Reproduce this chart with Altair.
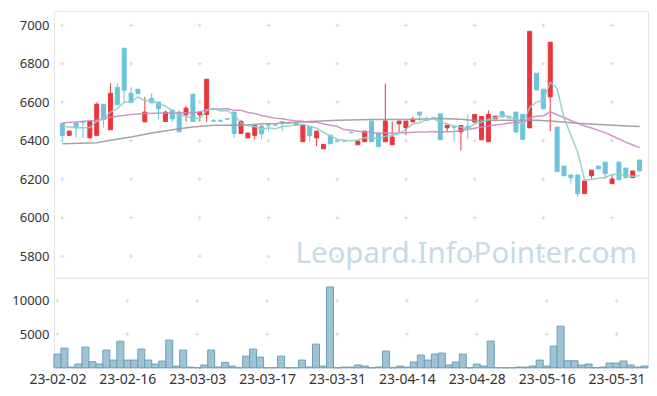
import json
import altair as alt
import pandas as pd

# ---------------- data ----------------
tick_labels = ["23-02-02", "23-02-16", "23-03-03", "23-03-17", "23-03-31",
               "23-04-14", "23-04-28", "23-05-16", "23-05-31"]
x_grid = [0, 10, 20, 30, 40, 50, 60, 70, 80]
price_ticks = [5800, 6000, 6200, 6400, 6600, 6800, 7000]
volume_ticks = [5000, 10000]

opens = [6490, 6428, 6492, 6500, 6415, 6428, 6590, 6457, 6678, 6881,
         6647, 6668, 6498, 6620, 6601, 6500, 6559, 6549, 6535, 6642,
         6535, 6537, 6504, 6504, 6514, 6549, 6438, 6415, 6428, 6477,
         6483, 6482, 6500, 6493, 6492, 6395, 6474, 6415, 6358, 6429,
         6399, 6399, 6443, 6379, 6395, 6503, 6440, 6395, 6379, 6488,
         6467, 6498, 6549, 6506, 6520, 6540, 6467, 6476, 6446, 6475,
         6497, 6405, 6395, 6514, 6551, 6520, 6549, 6537, 6467, 6751,
         6668, 6628, 6471, 6268, 6222, 6222, 6125, 6218, 6268, 6289,
         6177, 6289, 6258, 6208, 6300]
highs = [6490, 6450, 6492, 6502, 6502, 6599, 6590, 6699, 6699, 6881,
         6678, 6668, 6628, 6647, 6601, 6557, 6559, 6557, 6580, 6642,
         6549, 6720, 6512, 6512, 6517, 6549, 6509, 6440, 6479, 6477,
         6483, 6482, 6500, 6493, 6492, 6481, 6474, 6450, 6381, 6429,
         6399, 6399, 6450, 6402, 6450, 6503, 6440, 6697, 6500, 6502,
         6502, 6526, 6549, 6526, 6520, 6540, 6481, 6476, 6479, 6538,
         6537, 6526, 6557, 6528, 6551, 6520, 6549, 6537, 6969, 6751,
         6668, 6912, 6471, 6268, 6222, 6222, 6191, 6247, 6268, 6289,
         6222, 6289, 6258, 6243, 6300]
lows = [6398, 6428, 6415, 6415, 6415, 6428, 6467, 6457, 6587, 6602,
        6599, 6644, 6498, 6597, 6511, 6500, 6498, 6446, 6500, 6500,
        6498, 6498, 6502, 6502, 6512, 6415, 6438, 6415, 6407, 6407,
        6450, 6481, 6450, 6492, 6480, 6395, 6395, 6371, 6358, 6384,
        6398, 6398, 6441, 6379, 6395, 6395, 6369, 6395, 6379, 6446,
        6429, 6498, 6502, 6505, 6510, 6405, 6446, 6398, 6350, 6408,
        6497, 6405, 6395, 6514, 6524, 6519, 6440, 6407, 6467, 6664,
        6566, 6450, 6239, 6218, 6177, 6111, 6125, 6203, 6254, 6201,
        6177, 6197, 6208, 6208, 6243]
closes = [6428, 6450, 6467, 6497, 6502, 6590, 6511, 6647, 6587, 6663,
          6599, 6644, 6549, 6597, 6566, 6549, 6514, 6446, 6569, 6500,
          6549, 6720, 6502, 6502, 6512, 6438, 6500, 6440, 6479, 6436,
          6481, 6481, 6492, 6492, 6480, 6481, 6426, 6450, 6381, 6384,
          6398, 6398, 6441, 6398, 6450, 6395, 6369, 6503, 6419, 6502,
          6502, 6512, 6535, 6505, 6519, 6405, 6481, 6470, 6479, 6470,
          6537, 6526, 6537, 6528, 6524, 6519, 6446, 6407, 6969, 6664,
          6566, 6912, 6239, 6218, 6208, 6125, 6191, 6247, 6254, 6229,
          6201, 6197, 6208, 6243, 6243]
volumes = [2040, 2935, 100, 550, 3085, 900, 550, 2640, 1145, 3980,
           1145, 1145, 2790, 1145, 550, 1000, 4130, 250, 2640, 100,
           0, 400, 2640, 100, 800, 250, 0, 1740, 2790, 1590,
           0, 0, 1740, 0, 0, 1145, 100, 3530, 250, 12090,
           0, 100, 100, 400, 250, 0, 100, 2490, 0, 250,
           100, 850, 1890, 1145, 2040, 2190, 400, 850, 2040, 0,
           550, 250, 3980, 0, 0, 0, 100, 100, 250, 1145,
           250, 3230, 6220, 1045, 1045, 400, 550, 0, 100, 700,
           700, 1000, 400, 100, 250]
ma5 = [6476, 6471, 6468, 6467, 6469, 6501, 6513, 6549, 6567, 6600,
       6601, 6628, 6608, 6610, 6591, 6581, 6555, 6534, 6529, 6516,
       6516, 6557, 6568, 6555, 6557, 6535, 6491, 6478, 6474, 6459,
       6467, 6463, 6474, 6476, 6485, 6485, 6474, 6466, 6444, 6424,
       6408, 6402, 6400, 6404, 6417, 6416, 6411, 6423, 6427, 6438,
       6459, 6488, 6494, 6511, 6515, 6495, 6489, 6476, 6471, 6461,
       6487, 6496, 6510, 6520, 6530, 6527, 6511, 6485, 6573, 6601,
       6610, 6704, 6670, 6520, 6429, 6340, 6196, 6198, 6205, 6209,
       6224, 6226, 6218, 6216, 6218]
ma20_idx = [0, 5, 7, 10, 12, 17] + list(range(19, 85))
ma20_val = [6492, 6507, 6522, 6537, 6542, 6545,
            6544, 6550, 6563, 6565, 6565, 6566, 6558, 6558, 6547, 6542,
            6531, 6525, 6517, 6514, 6508, 6504, 6501, 6496, 6497, 6487,
            6481, 6474, 6458, 6455, 6449, 6446, 6444, 6438, 6441, 6438,
            6441, 6442, 6444, 6446, 6446, 6448, 6445, 6447, 6448, 6453,
            6458, 6465, 6471, 6476, 6482, 6486, 6492, 6496, 6491, 6519,
            6527, 6530, 6550, 6535, 6521, 6505, 6491, 6477, 6466, 6454,
            6442, 6426, 6409, 6393, 6378, 6364]
ma60_idx = [0, 5, 7, 10, 13, 17, 19, 22, 26, 29, 31, 36, 40, 45, 50,
            55, 58, 60, 64, 69, 71, 75, 80, 84]
ma60_val = [6384, 6389, 6402, 6419, 6440, 6462, 6471, 6481, 6480, 6488,
            6490, 6500, 6507, 6511, 6511, 6516, 6512, 6505, 6507, 6507,
            6503, 6491, 6480, 6474]
watermark = "Leopard.InfoPointer.com"

# ---------------- chart ----------------
n = len(closes)
df = pd.DataFrame({"i": list(range(n)), "open": opens, "high": highs,
                   "low": lows, "close": closes, "volume": volumes, "ma5": ma5})
df20 = pd.DataFrame({"i": ma20_idx, "v": ma20_val})
df60 = pd.DataFrame({"i": ma60_idx, "v": ma60_val})
grid_p = pd.DataFrame([(x, y) for x in x_grid for y in price_ticks], columns=["i", "y"])
grid_v = pd.DataFrame([(x, y) for x in x_grid for y in volume_ticks], columns=["i", "y"])

RED = "#e8373d"
TEAL = "#6cc3dc"
FONT = "Noto Sans"
PLUS = "M-1,0L1,0M0,-1L0,1"

xscale = alt.Scale(domain=[-0.5, n - 0.5], nice=False, zero=False)
pscale = alt.Scale(domain=[5687, 7073], nice=False, zero=False)
vscale = alt.Scale(domain=[0, 13450], nice=False, zero=True)

up = alt.datum.close >= alt.datum.open
ccol = alt.when(up).then(alt.value(RED)).otherwise(alt.value(TEAL))

X = alt.X("i:Q", scale=xscale, axis=None)

price_axis = alt.Axis(values=price_ticks, title=None, labelPadding=5, format="d",
                      minExtent=45)

grid_price = alt.Chart(grid_p).mark_point(
    shape=PLUS, size=16, filled=False, stroke="#d6d6d6", strokeWidth=1, opacity=1
).encode(x=X, y=alt.Y("y:Q", scale=pscale, axis=price_axis))

wm = alt.Chart(pd.DataFrame({"t": [watermark]})).mark_text(
    align="right", baseline="alphabetic", fontSize=29.5, font=FONT, color="#c6dae6"
).encode(text="t:N", x=alt.value(584), y=alt.value(252))

wicks = alt.Chart(df).mark_rule(strokeWidth=1).encode(
    x=X, y=alt.Y("low:Q", scale=pscale), y2="high:Q", color=ccol)

bodies = alt.Chart(df).mark_bar(size=4, strokeWidth=1).encode(
    x=X, y=alt.Y("open:Q", scale=pscale), y2="close:Q", fill=ccol, stroke=ccol)

line60 = alt.Chart(df60).mark_line(color="#999999", strokeWidth=1.5, opacity=0.9).encode(
    x=X, y=alt.Y("v:Q", scale=pscale))
line20 = alt.Chart(df20).mark_line(color="#cc8ac3", strokeWidth=1.5, opacity=0.9).encode(
    x=X, y=alt.Y("v:Q", scale=pscale))
line5 = alt.Chart(df).mark_line(color="#8ccfc4", strokeWidth=1.5, opacity=0.9).encode(
    x=X, y=alt.Y("ma5:Q", scale=pscale))

top = alt.layer(grid_price, wm, wicks, bodies, line60, line20, line5).properties(
    width=595, height=267)

label_expr = "%s[round(datum.value / 10)]" % json.dumps(tick_labels)
x_axis = alt.Axis(values=x_grid, labelExpr=label_expr, title=None, labelPadding=5,
                  labelFlush=False, labelFontSize=14)
vol_axis = alt.Axis(values=volume_ticks, title=None, labelPadding=5, format="d",
                    minExtent=45)

grid_vol = alt.Chart(grid_v).mark_point(
    shape=PLUS, size=16, filled=False, stroke="#d6d6d6", strokeWidth=1, opacity=1
).encode(x=alt.X("i:Q", scale=xscale, axis=x_axis),
         y=alt.Y("y:Q", scale=vscale, axis=vol_axis))

vol = alt.Chart(df).transform_calculate(
    x0="datum.i - 0.5", x1="datum.i + 0.5"
).mark_bar(fill="#98c0d3", stroke="#6a9fba", strokeWidth=1, fillOpacity=0.95).encode(
    x=alt.X("x0:Q", scale=xscale, axis=x_axis), x2="x1:Q",
    y=alt.Y("volume:Q", scale=vscale, axis=vol_axis), y2=alt.datum(0))

bottom = alt.layer(grid_vol, vol).properties(width=595, height=90)

chart = alt.vconcat(top, bottom, spacing=0, bounds="flush").properties(
    padding={"left": 0, "top": 2, "right": 0, "bottom": 0}
).configure_view(stroke="#e3e3e3").configure_axis(
    labelFont=FONT, labelFontSize=13, labelColor="#333333",
    grid=False, domain=False, ticks=False
)

chart.save("out.html", embed_options={"renderer": "svg", "actions": False})
